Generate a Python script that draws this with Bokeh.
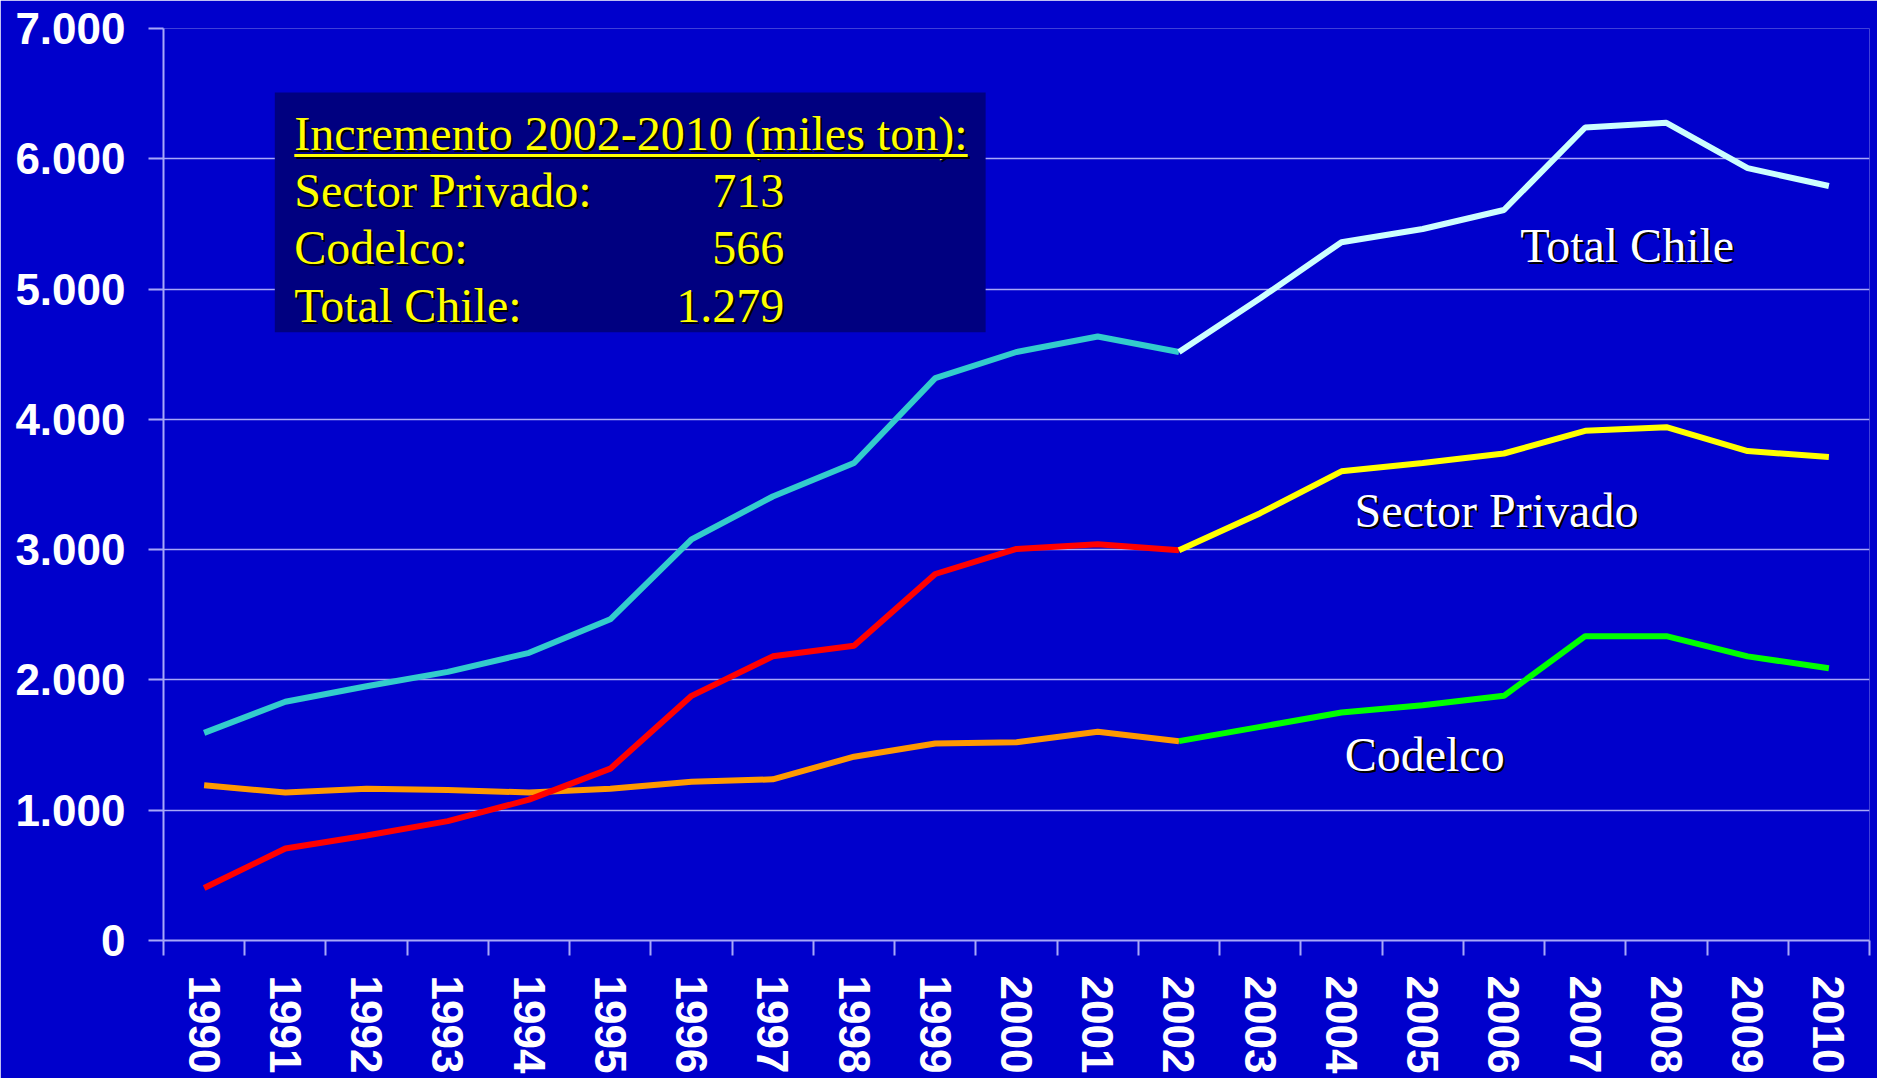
from bokeh.plotting import figure
from bokeh.models import Range1d, FixedTicker, BoxAnnotation, Label
from bokeh.embed import file_html
from bokeh.resources import INLINE

# ---------------- data ----------------
years = [1990, 1991, 1992, 1993, 1994, 1995, 1996, 1997, 1998, 1999, 2000,
         2001, 2002, 2003, 2004, 2005, 2006, 2007, 2008, 2009, 2010]
total_chile = [1594, 1832, 1952, 2062, 2208, 2465, 3079, 3408, 3665, 4316, 4517,
               4636, 4517, 4929, 5360, 5461, 5607, 6240, 6276, 5928, 5791]
sector_privado = [403, 706, 806, 916, 1081, 1319, 1878, 2181, 2263, 2813, 3005,
                  3042, 2996, 3280, 3601, 3665, 3738, 3912, 3940, 3757, 3711]
codelco = [1191, 1136, 1164, 1155, 1136, 1164, 1219, 1237, 1411, 1512, 1521,
           1603, 1530, 1640, 1750, 1805, 1878, 2336, 2336, 2181, 2089]
split_year = 2002

y_ticks = [0, 1000, 2000, 3000, 4000, 5000, 6000, 7000]
y_tick_labels = ["0", "1.000", "2.000", "3.000", "4.000", "5.000", "6.000", "7.000"]

box_title = "Incremento 2002-2010 (miles ton):"
box_rows = ["Sector Privado:", "Codelco:", "Total Chile:"]
box_values = ["713", "566", "1.279"]

series_labels = ["Total Chile", "Sector Privado", "Codelco"]

# ---------------- styles ----------------
BG = "#0000CC"
BOX = "#000080"
GRID = "#A8A8F8"
SERIF = "Liberation Serif"
SANS = "Liberation Sans"
BASE_FIX = 17  # px, lifts label text so that y is its baseline

p = figure(width=1877, height=1078, output_backend="svg", toolbar_location=None,
           x_range=Range1d(years[0] - 0.5, years[-1] + 0.5),
           y_range=Range1d(y_ticks[0], y_ticks[-1]),
           background_fill_color=BG, border_fill_color=BG,
           min_border_left=163, min_border_right=8, min_border_top=28,
           min_border_bottom=138)
p.outline_line_color = None

# y axis
p.yaxis.ticker = FixedTicker(ticks=y_ticks)
p.yaxis.major_label_overrides = {t: l for t, l in zip(y_ticks, y_tick_labels)}
p.yaxis.major_label_text_font = SANS
p.yaxis.major_label_text_font_style = "bold"
p.yaxis.major_label_text_font_size = "44px"
p.yaxis.major_label_text_color = "white"
p.yaxis.major_label_standoff = 23
p.yaxis.major_tick_out = 15
p.yaxis.major_tick_in = 0
p.yaxis.major_tick_line_color = GRID
p.yaxis.major_tick_line_width = 2
p.yaxis.minor_tick_line_color = None
p.yaxis.axis_line_color = GRID
p.yaxis.axis_line_width = 2

# x axis: labels at year centres, tick marks at boundaries
p.xaxis.ticker = FixedTicker(ticks=years,
                             minor_ticks=[y - 0.5 for y in years] + [years[-1] + 0.5])
p.xaxis.major_label_overrides = {y: str(y) for y in years}
p.xaxis.major_label_orientation = "vertical"
p.xaxis.major_label_text_font = SANS
p.xaxis.major_label_text_font_style = "bold"
p.xaxis.major_label_text_font_size = "44px"
p.xaxis.major_label_text_color = "white"
p.xaxis.major_label_standoff = 20
p.xaxis.major_tick_out = 0
p.xaxis.major_tick_in = 0
p.xaxis.minor_tick_out = 15
p.xaxis.minor_tick_in = 0
p.xaxis.minor_tick_line_color = GRID
p.xaxis.minor_tick_line_width = 2
p.xaxis.axis_line_color = GRID
p.xaxis.axis_line_width = 2

p.xgrid.grid_line_color = None
p.ygrid.grid_line_color = GRID
p.ygrid.grid_line_width = 1.5

# ---------------- lines ----------------
k = years.index(split_year)
LW = 6
p.line(years[:k + 1], codelco[:k + 1], line_color="#FF9900", line_width=LW)
p.line(years[k:], codelco[k:], line_color="#00FF00", line_width=LW)
p.line(years[:k + 1], sector_privado[:k + 1], line_color="#FF0000", line_width=LW)
p.line(years[k:], sector_privado[k:], line_color="#FFFF00", line_width=LW)
p.line(years[:k + 1], total_chile[:k + 1], line_color="#33CCCC", line_width=LW)
p.line(years[k:], total_chile[k:], line_color="#CCFFFF", line_width=LW)

# ---------------- text box ----------------
p.add_layout(BoxAnnotation(left=1990.87, right=1999.62, bottom=4668, top=6509,
                           fill_color=BOX, fill_alpha=1.0, line_color=None))


def shadow_label(x, y, text, color, align="left"):
    p.add_layout(Label(x=x, y=y, text=text, x_offset=2, y_offset=BASE_FIX - 2,
                       text_font=SERIF, text_font_size="48px", text_color="black",
                       text_align=align, text_baseline="alphabetic"))
    p.add_layout(Label(x=x, y=y, text=text, y_offset=BASE_FIX,
                       text_font=SERIF, text_font_size="48px", text_color=color,
                       text_align=align, text_baseline="alphabetic"))


TEXT_X = 1991.11
NUM_X = 1997.14
row_y = [6066, 5626, 5185, 4743]
shadow_label(TEXT_X, row_y[0], box_title, "#FFFF00")
# underline of the title (drawn above the box)
p.segment(x0=[TEXT_X + 0.025], y0=[6010], x1=[1999.425], y1=[6010],
          line_color="black", line_width=3, level="overlay")
p.segment(x0=[TEXT_X], y0=[6025], x1=[1999.40], y1=[6025],
          line_color="#FFFF00", line_width=3, level="overlay")
for ry, name, val in zip(row_y[1:], box_rows, box_values):
    shadow_label(TEXT_X, ry, name, "#FFFF00")
    shadow_label(NUM_X, ry, val, "#FFFF00", align="right")

# series labels
shadow_label(2006.2, 5204, series_labels[0], "white")
shadow_label(2004.16, 3170, series_labels[1], "white")
shadow_label(2004.04, 1297, series_labels[2], "white")

html = file_html(p, INLINE)
html = html.replace("<body>", '<body style="background:#0000CC">', 1)
open("out.html", "w").write(html)
